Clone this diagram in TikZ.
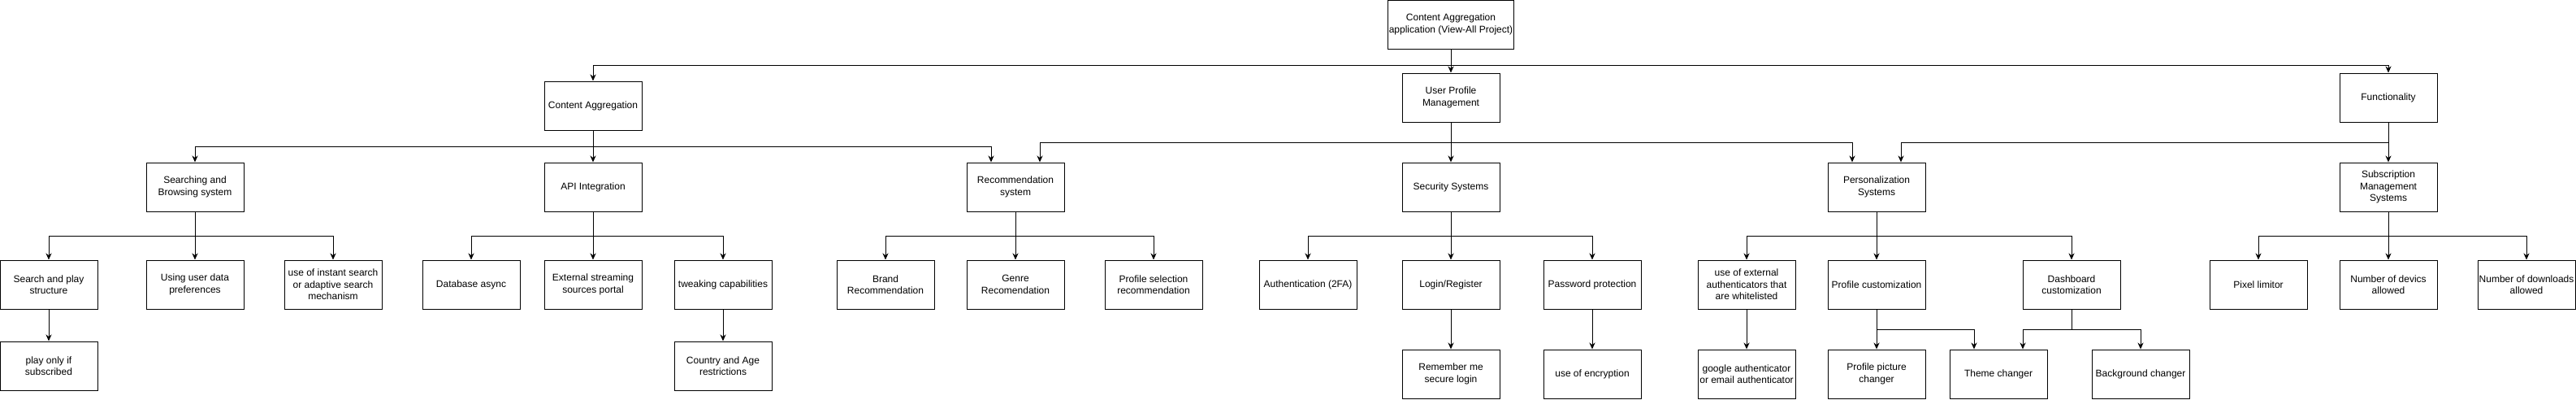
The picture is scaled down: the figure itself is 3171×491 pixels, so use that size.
\documentclass[tikz,border=0pt]{standalone}
\usepackage{fontspec}
\setmainfont{Liberation Sans}
\usetikzlibrary{arrows.meta}
\begin{document}
\begin{tikzpicture}[x=1pt,y=-1pt,
  box/.style={draw,line width=1pt,minimum width=120pt,minimum height=60pt,align=center,inner sep=1pt,font=\fontsize{12}{14.5}\selectfont},
  arr/.style={line width=1pt,-{Stealth[length=8pt,width=7pt,inset=2.5pt]}}]
\useasboundingbox (0,0) rectangle (3171,491);
\node[box,minimum width=152pt] (root) at (1786,30) {Content Aggregation\\application (View-All Project)};
\node[box] (ca) at (730,130) {Content Aggregation};
\node[box] (upm) at (1786,120) {User Profile\\Management};
\node[box] (fn) at (2940,120) {Functionality};
\node[box] (sbs) at (240,230) {Searching and\\Browsing system};
\node[box] (api) at (730,230) {API Integration};
\node[box] (rec) at (1250,230) {Recommendation\\system};
\node[box] (sec) at (1786,230) {Security Systems};
\node[box] (pers) at (2310,230) {Personalization\\Systems};
\node[box] (sub) at (2940,230) {Subscription\\Management\\Systems};
\node[box] (sp) at (60,350) {Search and play\\structure};
\node[box] (ud) at (240,350) {Using user data\\preferences};
\node[box] (is) at (410,350) {use of instant search\\or adaptive search\\mechanism};
\node[box] (db) at (580,350) {Database async};
\node[box] (ext) at (730,350) {External streaming\\sources portal};
\node[box] (tw) at (890,350) {tweaking capabilities};
\node[box] (br) at (1090,350) {Brand\\Recommendation};
\node[box] (ge) at (1250,350) {Genre\\Recomendation};
\node[box] (ps) at (1420,350) {Profile selection\\recommendation};
\node[box] (auth) at (1610,350) {Authentication (2FA)};
\node[box] (log) at (1786,350) {Login/Register};
\node[box] (pw) at (1960,350) {Password protection};
\node[box] (xa) at (2150,350) {use of external\\authenticators that\\are whitelisted};
\node[box] (pc) at (2310,350) {Profile customization};
\node[box] (dc) at (2550,350) {Dashboard\\customization};
\node[box] (px) at (2780,350) {Pixel limitor};
\node[box] (nd) at (2940,350) {Number of devics\\allowed};
\node[box] (ndl) at (3110,350) {Number of downloads\\allowed};
\node[box] (pl) at (60,450) {play only if\\subscribed};
\node[box] (cr) at (890,450) {Country and Age\\restrictions};
\node[box] (rm) at (1786,460) {Remember me\\secure login};
\node[box] (enc) at (1960,460) {use of encryption};
\node[box] (ga) at (2150,460) {google authenticator\\or email authenticator};
\node[box] (pp) at (2310,460) {Profile picture\\changer};
\node[box] (th) at (2460,460) {Theme changer};
\node[box] (bg) at (2635,460) {Background changer};
\draw[arr] (root.south) -- ++(0,20) -| (ca.north);
\draw[arr] (root.south) -- (upm.north);
\draw[arr] (root.south) -- ++(0,20) -| (fn.north);
\draw[arr] (ca.south) -- ++(0,20) -| (sbs.north);
\draw[arr] (ca.south) -- (api.north);
\draw[arr] (ca.south) -- ++(0,20) -| ([xshift=-30pt]rec.north);
\draw[arr] (upm.south) -- ++(0,25) -| ([xshift=30pt]rec.north);
\draw[arr] (upm.south) -- (sec.north);
\draw[arr] (upm.south) -- ++(0,25) -| ([xshift=-30pt]pers.north);
\draw[arr] (fn.south) -- ++(0,25) -| ([xshift=30pt]pers.north);
\draw[arr] (fn.south) -- (sub.north);
\draw[arr] (sbs.south) -- ++(0,30) -| (sp.north);
\draw[arr] (sbs.south) -- (ud.north);
\draw[arr] (sbs.south) -- ++(0,30) -| (is.north);
\draw[arr] (api.south) -- ++(0,30) -| (db.north);
\draw[arr] (api.south) -- (ext.north);
\draw[arr] (api.south) -- ++(0,30) -| (tw.north);
\draw[arr] (rec.south) -- ++(0,30) -| (br.north);
\draw[arr] (rec.south) -- (ge.north);
\draw[arr] (rec.south) -- ++(0,30) -| (ps.north);
\draw[arr] (sec.south) -- ++(0,30) -| (auth.north);
\draw[arr] (sec.south) -- (log.north);
\draw[arr] (sec.south) -- ++(0,30) -| (pw.north);
\draw[arr] (pers.south) -- ++(0,30) -| (xa.north);
\draw[arr] (pers.south) -- (pc.north);
\draw[arr] (pers.south) -- ++(0,30) -| (dc.north);
\draw[arr] (sub.south) -- ++(0,30) -| (px.north);
\draw[arr] (sub.south) -- (nd.north);
\draw[arr] (sub.south) -- ++(0,30) -| (ndl.north);
\draw[arr] (sp.south) -- (pl.north);
\draw[arr] (tw.south) -- (cr.north);
\draw[arr] (log.south) -- (rm.north);
\draw[arr] (pw.south) -- (enc.north);
\draw[arr] (xa.south) -- (ga.north);
\draw[arr] (pc.south) -- (pp.north);
\draw[arr] (pc.south) -- ++(0,25) -| ([xshift=-30pt]th.north);
\draw[arr] (dc.south) -- ++(0,25) -| ([xshift=30pt]th.north);
\draw[arr] (dc.south) -- ++(0,25) -| (bg.north);
\end{tikzpicture}
\end{document}
